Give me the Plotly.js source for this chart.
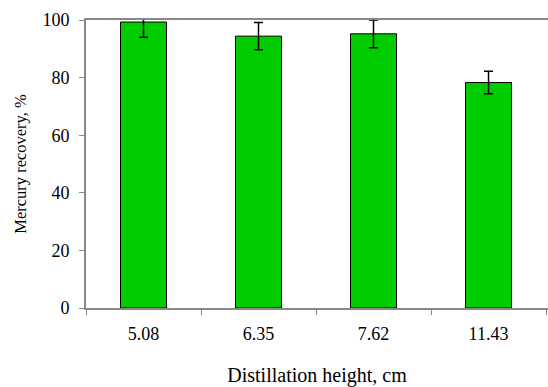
<!DOCTYPE html>
<html>
<head>
<meta charset="utf-8">
<script src="https://cdn.plot.ly/plotly-3.0.1.min.js"></script>
<style>html,body{margin:0;padding:0;background:#fff}#chart{width:548px;height:387px}</style>
</head>
<body>
<div id="chart"></div>
<script>
const categories = ["5.08", "6.35", "7.62", "11.43"];
const recovery = [99.3, 94.4, 95.2, 78.3];
const errors = [5.3, 4.7, 4.8, 3.9];
const yTicks = [0, 20, 40, 60, 80, 100];

const trace = {
  type: "bar",
  x: categories,
  y: recovery,
  marker: {color: "#00CC00", line: {color: "#000000", width: 1}},
  error_y: {type: "data", array: errors, visible: true, color: "#000000", thickness: 1.5, width: 4.5}
};

const layout = {
  width: 548, height: 387,
  margin: {l: 86, r: 0, t: 20, b: 79},
  paper_bgcolor: "#ffffff", plot_bgcolor: "#ffffff",
  font: {family: "Liberation Serif, Times New Roman, serif", size: 18, color: "#000000"},
  bargap: 0.6,
  showlegend: false,
  xaxis: {
    type: "category",
    range: [-0.5, 3.5 + 2/116],
    showline: true, linecolor: "#888888", linewidth: 2, mirror: true,
    ticks: "outside", tickson: "boundaries", ticklen: 5, tickcolor: "#888888", tickwidth: 1,
    ticklabelstandoff: 8,
    showgrid: false, zeroline: false,
    title: {text: "Distillation height, cm", font: {size: 20}, standoff: 28}
  },
  yaxis: {
    range: [0, 100],
    tickvals: yTicks,
    showline: true, linecolor: "#888888", linewidth: 2,
    ticks: "outside", ticklen: 5, tickcolor: "#888888", tickwidth: 1,
    ticklabelstandoff: 6,
    showgrid: false, zeroline: false,
    title: {text: "Mercury recovery, %", font: {size: 16.5}, standoff: 12}
  }
};

Plotly.newPlot("chart", [trace], layout, {displayModeBar: false, staticPlot: true});
</script>
</body>
</html>
